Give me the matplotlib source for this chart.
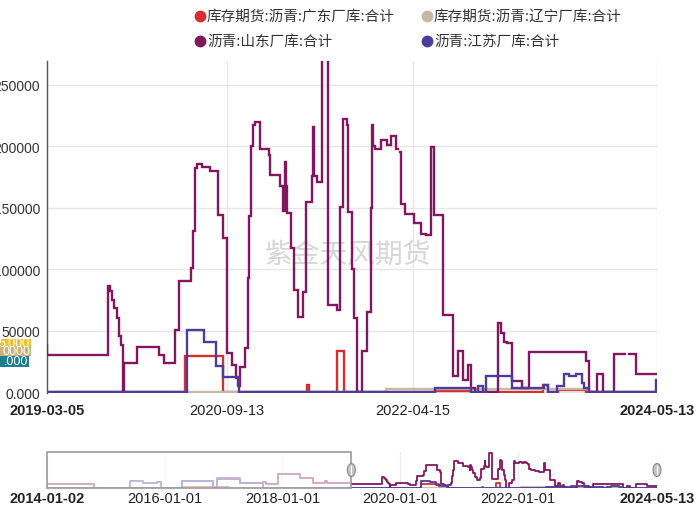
import numpy as np
import pandas as pd
import matplotlib
matplotlib.use("Agg")
import matplotlib.pyplot as plt
import matplotlib.dates as mdates
from matplotlib.lines import Line2D
from matplotlib.patches import Rectangle, Ellipse
from matplotlib.ticker import FuncFormatter

nan = np.nan

# ---------------- data ----------------
series_names = ["库存期货:沥青:广东厂库:合计", "库存期货:沥青:辽宁厂库:合计",
                "沥青:山东厂库:合计", "沥青:江苏厂库:合计"]
series_colors = ["#d42e2e", "#c5b8a5", "#83175f", "#4b3d9c"]

guangdong_dates = ["2014-01-02", "2016-04-16", "2017-02-01", "2020-05-08", "2020-09-01",
                   "2021-05-21", "2021-05-27", "2021-08-21", "2021-09-14", "2022-06-24",
                   "2022-10-13", "2023-05-24", "2023-06-08", "2023-07-09", "2023-10-04",
                   "2024-05-13"]
guangdong_values = [0, 5000, 0, 29000, 0, 5500, 0, 33000, 0, 800, 0, 5400, 0, 1500, 0, 0]

liaoning_dates = ["2014-01-02", "2022-01-21", "2023-10-14", "2024-05-13"]
liaoning_values = [0, 2400, 0, 0]

shandong_dates = [
    "2014-01-02", "2014-10-20", "2016-04-16", "2016-10-30", "2016-11-20", "2017-04-13",
    "2017-09-03", "2017-09-20", "2017-12-05", "2018-04-20", "2018-07-10", "2018-09-20",
    "2018-10-05", "2019-03-05", "2019-09-10", "2019-09-17", "2019-09-23", "2019-09-29",
    "2019-10-09", "2019-10-15", "2019-10-21", "2019-10-26", "2019-10-28", "2019-10-30",
    "2019-12-09", "2020-02-17", "2020-03-03", "2020-04-06", "2020-04-18", "2020-05-25",
    "2020-05-31", "2020-06-07", "2020-06-12", "2020-06-29", "2020-07-24", "2020-08-18",
    "2020-09-03", "2020-09-14", "2020-09-29", "2020-10-12", "2020-10-20", "2020-10-25",
    "2020-11-10", "2020-11-18", "2020-11-22", "2020-11-28", "2020-12-03", "2020-12-10",
    "2020-12-26", "2021-01-23", "2021-01-26", "2021-02-26", "2021-03-07", "2021-03-13",
    "2021-03-17", "2021-03-21", "2021-03-31", "2021-04-11", "2021-04-24", "2021-05-08",
    "2021-05-18", "2021-06-06", "2021-06-10", "2021-06-13", "2021-06-20", "2021-07-06",
    "2021-07-26", "2021-08-21", "2021-09-02", "2021-09-09", "2021-09-11", "2021-09-21",
    "2021-09-27", "2021-10-09", "2021-10-15", "2021-10-22", "2021-11-07", "2021-11-23",
    "2021-12-05", "2021-12-10", "2021-12-13", "2021-12-17", "2022-01-07", "2022-01-24",
    "2022-02-07", "2022-02-23", "2022-02-27", "2022-03-07", "2022-03-10", "2022-03-21",
    "2022-04-18", "2022-05-12", "2022-05-25", "2022-06-09", "2022-06-19", "2022-07-19",
    "2022-08-19", "2022-09-04", "2022-09-17", "2022-10-05", "2022-10-13", "2022-10-24",
    "2023-01-04", "2023-01-14", "2023-01-22", "2023-02-01", "2023-02-18", "2023-03-19",
    "2023-04-12", "2023-10-06", "2023-10-16", "2023-11-08", "2023-11-28", "2024-01-01",
    "2024-02-05", "2024-02-15", "2024-03-09", "2024-05-13"]
shandong_values = [
    30000, 0, 55000, 0, 70000, 35000,
    48000, 32000, 109000, 81000, 38000, 50000,
    38000, 30000, 86000, 82000, 75000, 68000,
    60000, 46000, 38000, 30000, 0, 24000,
    37000, 30000, 24000, 50600, 90000, 100600,
    131000, 182000, 186000, 183000, 180000, 144000,
    125000, 32000, 22000, 11400, 5000, 20000,
    36000, 92500, 143000, 200000, 217000, 220000,
    198000, 192600, 177000, 168000, 147000, 187000,
    168000, 146000, 117000, 83000, 61400, 81700,
    155000, 176000, 215700, 176000, 171000, 285000,
    71000, 66800, 150700, 200000, 222400, 217000,
    146700, 100000, 60000, 0, 33000, 65400,
    150000, 217000, 200000, 198000, 204800, 201300,
    208400, 198000, nan, 195400, 153400, 145300,
    137200, 129000, 127500, 199400, 143900, 62700,
    12700, 33500, 10000, 22200, 3200, 0,
    56000, 48000, 41100, 39800, 8700, 3200,
    32200, 25000, 0, 14600, 0, 30800,
    nan, 30800, 14600, 14600]

jiangsu_dates = ["2014-01-02", "2015-06-01", "2015-08-20", "2015-11-15", "2015-12-10",
                 "2016-04-16", "2016-10-30", "2016-11-20", "2017-04-13", "2017-09-03",
                 "2020-05-13", "2020-07-04", "2020-08-12", "2020-09-03", "2020-10-23",
                 "2022-06-24", "2022-10-13", "2022-11-03", "2022-11-20", "2022-11-29",
                 "2023-02-18", "2023-05-27", "2023-06-10", "2023-07-07", "2023-07-30",
                 "2023-08-15", "2023-09-04", "2023-09-22", "2023-09-30", "2023-10-16",
                 "2024-05-11", "2024-05-13"]
jiangsu_values = [0, 51000, 38000, 48000, 0,
                  56000, 0, 81000, 38000, 0,
                  50600, 41100, 20900, 12000, 0,
                  3200, 0, 4500, 0, 12700,
                  3200, 5400, 0, 4500, 14600,
                  12700, 14600, 7300, 3200, 0,
                  10000, 10000]

main_ticks = ["2019-03-05", "2020-09-13", "2022-04-15", "2024-05-13"]
nav_ticks = ["2014-01-02", "2016-01-01", "2018-01-01", "2020-01-01", "2022-01-01", "2024-05-13"]
y_ticks = [0, 50000, 100000, 150000, 200000, 250000]

# ---------------- figure ----------------
plt.rcParams['font.family'] = ['Liberation Sans', 'Noto Sans CJK SC', 'DejaVu Sans']
CJK = ['Noto Sans CJK SC', 'DejaVu Sans']

W, H = 697, 506
fig = plt.figure(figsize=(W / 100, H / 100), dpi=100)


def fx(px):
    return px / W


def fy(py):
    return 1 - py / H


ax = fig.add_axes([fx(47), fy(394), 610 / W, 332 / H])
nav = fig.add_axes([fx(47), fy(489), 610 / W, 36 / H])

all_series = [
    (guangdong_dates, guangdong_values),
    (liaoning_dates, liaoning_values),
    (shandong_dates, shandong_values),
    (jiangsu_dates, jiangsu_values),
]

for i, ((d, v), col) in enumerate(zip(all_series, series_colors)):
    dd = pd.to_datetime(d)
    vv = np.array(v, dtype=float)
    ax.step(dd, vv, where='post', color=col, lw=1.7, zorder=3 + i,
            solid_joinstyle='miter')
    nav.step(dd, vv, where='post', color=col, lw=1.3, zorder=3 + i)

start_main = pd.Timestamp(main_ticks[0])
end_main = pd.Timestamp(main_ticks[-1])
ax.set_xlim(start_main, end_main)
ax.set_ylim(-800, 269500)

for s in ['top', 'right', 'bottom']:
    ax.spines[s].set_visible(False)
ax.spines['left'].set_color('#555555')
ax.spines['left'].set_linewidth(1.0)

ax.set_yticks(y_ticks)
ax.yaxis.set_major_formatter(FuncFormatter(lambda v, p: "0.000" if v == 0 else f"{int(v)}"))
ax.tick_params(axis='y', length=0, pad=5, labelsize=10, labelcolor='#333333')
ax.set_xticks(pd.to_datetime(main_ticks))
ax.set_xticklabels(main_ticks)
ax.tick_params(axis='x', length=0, pad=7, labelsize=10.5, labelcolor='#222222')
xl = ax.get_xticklabels()
xl[0].set_fontweight('bold')
xl[-1].set_fontweight('bold')
ax.grid(True, color='#e6e6e6', lw=1.0)
ax.set_axisbelow(True)

# watermark
ax.text(0.4934, 0.4187, "紫金天风期货", transform=ax.transAxes, ha='center', va='center',
        fontsize=20, color='#d6d6d6', family=CJK, zorder=1)

# coloured labels of the hidden value axes on the left
badges = [(340, 347.5, 31, '#f2c12e', '5.000'),
          (347.5, 357, 31, '#c9b27c', '0000'),
          (357, 368, 29, '#1e7d8e', '.000')]
for y0, y1, w, c, t in badges:
    fig.add_artist(Rectangle((0, fy(y1)), fx(w), (y1 - y0) / H, transform=fig.transFigure,
                             facecolor=c, edgecolor='none', zorder=10))
    fig.text(fx(w - 1), fy((y0 + y1) / 2), t, ha='right', va='center', color='white',
             fontsize=9, zorder=11)

# legend
legend_pos = [(200, 17), (427, 17), (200, 42), (427, 42)]
for (px, py), name, col in zip(legend_pos, series_names, series_colors):
    fig.add_artist(Line2D([fx(px)], [fy(py)], marker='o', markersize=7.5, color=col,
                          markeredgecolor=col, transform=fig.transFigure))
    fig.text(fx(px + 7), fy(py), name, ha='left', va='center', fontsize=10.5,
             color='#333333', family=CJK)

# ---------------- navigator ----------------
start_nav = pd.Timestamp(nav_ticks[0])
end_nav = pd.Timestamp(nav_ticks[-1])
nav.set_xlim(start_nav, end_nav)
nav.set_ylim(-4000, 290000)
for s in nav.spines.values():
    s.set_visible(False)
nav.set_yticks([])
nav.set_xticks(pd.to_datetime(nav_ticks))
nav.set_xticklabels(nav_ticks)
nav.tick_params(axis='x', length=0, pad=2, labelsize=10.5, labelcolor='#222222')
nl = nav.get_xticklabels()
nl[0].set_fontweight('bold')
nl[-1].set_fontweight('bold')
nav.grid(True, axis='x', color='#ececec', lw=1.0)
nav.set_axisbelow(True)

n0 = mdates.date2num(start_nav)
n1 = mdates.date2num(end_nav)
sel = (mdates.date2num(start_main) - n0) / (n1 - n0)
nav.add_patch(Rectangle((0, 0), sel, 1, transform=nav.transAxes, facecolor='white',
                        alpha=0.62, edgecolor='none', zorder=20, clip_on=False))
nav.add_patch(Rectangle((0, 0), sel, 1, transform=nav.transAxes, facecolor='none',
                        edgecolor='#9a9a9a', lw=1.2, zorder=21, clip_on=False))

for hx in (47 + sel * 610, 657):
    fig.add_artist(Ellipse((fx(hx), fy(471)), 8 / W, 13 / H, transform=fig.transFigure,
                           facecolor='#c4c4c4', edgecolor='#8a8a8a', lw=0.8, zorder=22))
    fig.add_artist(Line2D([fx(hx), fx(hx)], [fy(467), fy(475)], color='white', lw=0.8,
                          transform=fig.transFigure, zorder=23))

fig.savefig("out.png", dpi=100)
